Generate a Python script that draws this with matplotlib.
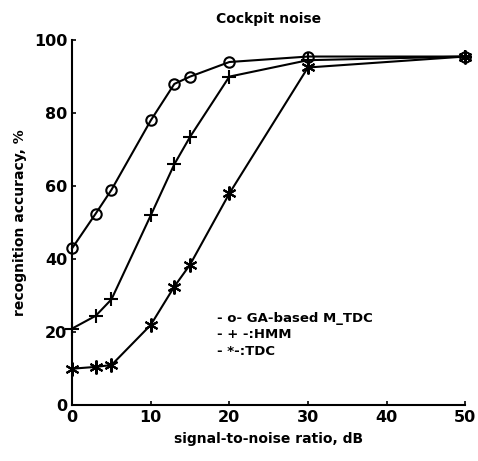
import matplotlib.pyplot as plt

# data
snr = [0, 3, 5, 10, 13, 15, 20, 30, 50]
ga_mtdc = [43, 52.5, 59, 78, 88, 90, 94, 95.5, 95.5]
hmm = [21, 24.5, 29, 52, 66, 73.5, 90, 94.5, 95.5]
tdc = [10, 10.5, 11, 22, 32.5, 38.5, 58, 92.5, 95.5]

legend_lines = ["- o- GA-based M_TDC", "- + -:HMM", "- *-:TDC"]

fig = plt.figure(figsize=(4.78, 4.61), dpi=100)
ax = fig.add_axes([0.151, 0.121, 0.822, 0.792])

ax.plot(snr, ga_mtdc, color="black", lw=1.5, marker="o", ms=7.5,
        mfc="none", mec="black", mew=1.5, clip_on=False)
ax.plot(snr, hmm, color="black", lw=1.5, marker="+", ms=10, mew=1.5,
        clip_on=False)
ax.plot(snr, tdc, color="black", lw=1.5, marker=(6, 2, 0), ms=10, mew=1.5,
        clip_on=False)

ax.set_xlim(0, 50)
ax.set_ylim(0, 100)
ax.set_xticks([0, 10, 20, 30, 40, 50])
ax.set_yticks([0, 20, 40, 60, 80, 100])
for s in ["top", "right"]:
    ax.spines[s].set_visible(False)
for s in ["left", "bottom"]:
    ax.spines[s].set_linewidth(1.5)
ax.tick_params(direction="in", length=3, width=1.2, labelsize=11.5)
for lab in ax.get_xticklabels() + ax.get_yticklabels():
    lab.set_fontweight("bold")

ax.set_title("Cockpit noise", fontsize=10, fontweight="bold", pad=12)
ax.set_xlabel("signal-to-noise ratio, dB", fontsize=10, fontweight="bold", labelpad=5)
ax.set_ylabel("recognition accuracy, %", fontsize=10, fontweight="bold", labelpad=5)

for i, txt in enumerate(legend_lines):
    ax.text(18.4, 23.8 - 4.5 * i, txt, fontsize=9.5, fontweight="bold",
            va="center", ha="left")

fig.savefig("out.png", dpi=100)
